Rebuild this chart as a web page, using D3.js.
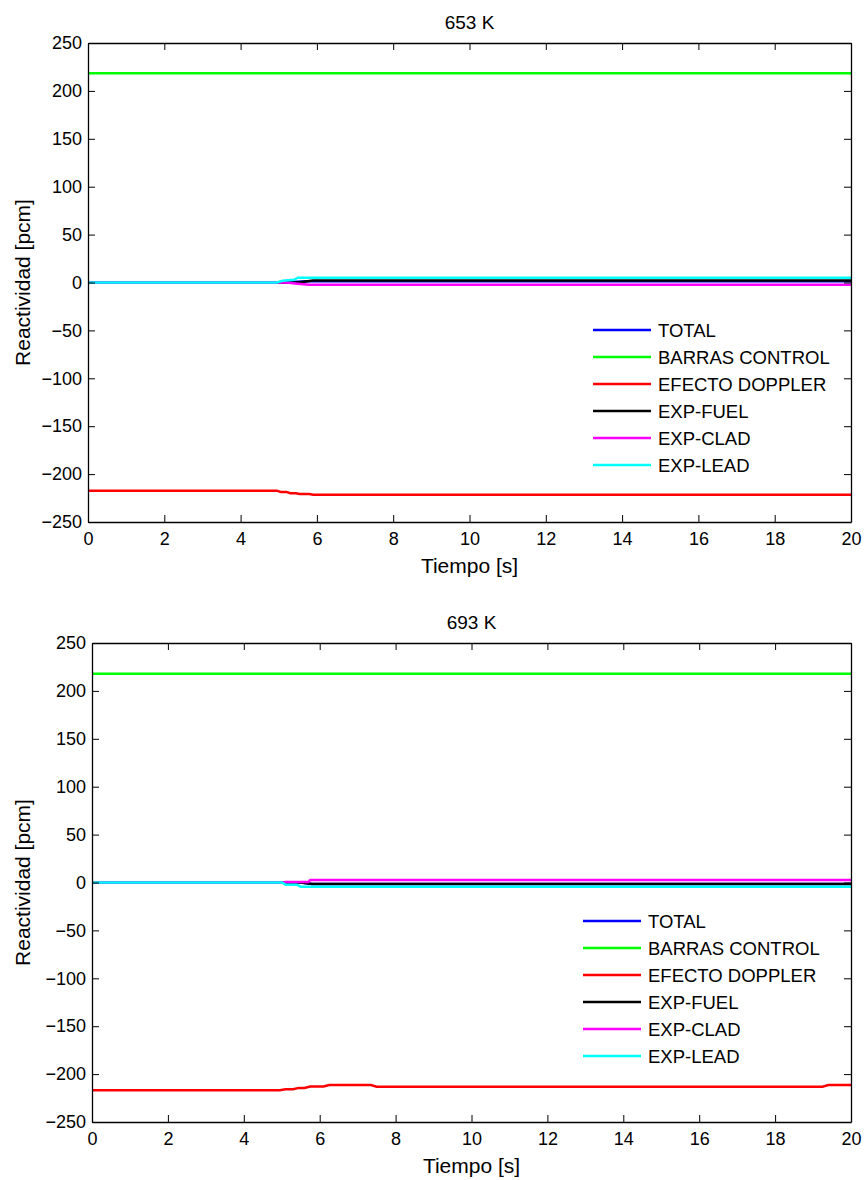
<!DOCTYPE html>
<html>
<head>
<meta charset="utf-8">
<script src="https://cdn.jsdelivr.net/npm/d3@7"></script>
<style>
  body { margin: 0; background: #fff; }
  svg { display: block; font-family: "Liberation Sans", Arial, sans-serif; }
</style>
</head>
<body>
<svg id="chart" width="865" height="1180"></svg>
<script>
// ---- Data ----
const seriesNames = ["TOTAL", "BARRAS CONTROL", "EFECTO DOPPLER", "EXP-FUEL", "EXP-CLAD", "EXP-LEAD"];
const seriesColors = ["#0000ff", "#00ff00", "#ff0000", "#000000", "#ff00ff", "#00ffff"];
const xTicks = [0, 2, 4, 6, 8, 10, 12, 14, 16, 18, 20];
const yTicks = [250, 200, 150, 100, 50, 0, -50, -100, -150, -200, -250];

// 653 K
const t653_total   = [0, 5.0, 5.8, 20];
const v653_total   = [0, 0, 1.2, 1.2];
const t653_barras  = [0, 20];
const v653_barras  = [218.5, 218.5];
const t653_doppler = [0, 4.95, 5.05, 5.2, 5.3, 5.45, 5.55, 5.8, 5.9, 20];
const v653_doppler = [-217.3, -217.3, -218.6, -218.6, -219.9, -219.9, -220.8, -220.8, -221.6, -221.6];
const t653_fuel    = [0, 5.5, 5.9, 20];
const v653_fuel    = [0, 0, 2.0, 2.0];
const t653_clad    = [0, 5.2, 5.5, 5.8, 20];
const v653_clad    = [0, 0, -1.2, -2.4, -2.4];
const t653_lead    = [0, 4.95, 5.1, 5.4, 5.5, 20];
const v653_lead    = [0, 0, 1.8, 2.8, 5.0, 5.0];

// 693 K
const t693_total   = [0, 5.5, 5.8, 20];
const v693_total   = [0, 0, -1.6, -1.6];
const t693_barras  = [0, 20];
const v693_barras  = [218.0, 218.0];
const t693_doppler = [0, 4.95, 5.1, 5.3, 5.45, 5.6, 5.75, 6.1, 6.25, 7.35, 7.5, 19.25, 19.4, 20];
const v693_doppler = [-216.8, -216.8, -215.8, -215.8, -214.4, -214.4, -213.0, -213.0, -211.5, -211.5, -213.2, -213.2, -211.5, -211.5];
const t693_fuel    = [0, 5.5, 5.8, 20];
const v693_fuel    = [0, 0, -1.6, -1.6];
const t693_clad    = [0, 5.05, 5.1, 5.7, 5.75, 20];
const v693_clad    = [0, 0, 0.5, 0.5, 2.6, 2.6];
const t693_lead    = [0, 5.0, 5.1, 5.4, 5.5, 20];
const v693_lead    = [0, 0, -2.3, -2.3, -4.4, -4.4];

const charts = [
  {
    title: "653 K",
    box: { left: 88, right: 851, top: 43, bottom: 522 },
    legend: { x: 593, y: 330 },
    times: [t653_total, t653_barras, t653_doppler, t653_fuel, t653_clad, t653_lead],
    values: [v653_total, v653_barras, v653_doppler, v653_fuel, v653_clad, v653_lead]
  },
  {
    title: "693 K",
    box: { left: 92, right: 851, top: 643, bottom: 1122 },
    legend: { x: 583, y: 921 },
    times: [t693_total, t693_barras, t693_doppler, t693_fuel, t693_clad, t693_lead],
    values: [v693_total, v693_barras, v693_doppler, v693_fuel, v693_clad, v693_lead]
  }
];

const svg = d3.select("#chart");

charts.forEach(c => {
  const b = c.box;
  const x = d3.scaleLinear().domain([0, 20]).range([b.left, b.right]);
  const y = d3.scaleLinear().domain([-250, 250]).range([b.bottom, b.top]);
  const g = svg.append("g");

  // series lines
  const line = d3.line().x(d => x(d[0])).y(d => y(d[1]));
  c.times.forEach((ts, i) => {
    const pts = ts.map((t, k) => [t, c.values[i][k]]);
    g.append("path")
      .datum(pts)
      .attr("d", line)
      .attr("fill", "none")
      .attr("stroke", seriesColors[i])
      .attr("stroke-width", 2.5);
  });

  // axes
  const tickStyle = sel => {
    sel.selectAll(".tick line").attr("stroke", "#000");
    sel.select(".domain").attr("stroke", "#000").attr("stroke-width", 1.3);
    sel.selectAll(".tick text").attr("fill", "#000").attr("font-size", 18)
      .attr("font-family", "'Liberation Sans', Arial, sans-serif");
  };
  g.append("g").attr("transform", `translate(0,${b.bottom})`)
    .call(d3.axisBottom(x).tickValues(xTicks).tickFormat(d3.format("d")).tickSize(-7).tickSizeOuter(0).tickPadding(10))
    .call(tickStyle);
  g.append("g").attr("transform", `translate(0,${b.top})`)
    .call(d3.axisTop(x).tickValues(xTicks).tickFormat("").tickSize(-7).tickSizeOuter(0))
    .call(tickStyle);
  g.append("g").attr("transform", `translate(${b.left},0)`)
    .call(d3.axisLeft(y).tickValues(yTicks).tickFormat(d3.format("d")).tickSize(-7).tickSizeOuter(0).tickPadding(6))
    .call(tickStyle);
  g.append("g").attr("transform", `translate(${b.right},0)`)
    .call(d3.axisRight(y).tickValues(yTicks).tickFormat("").tickSize(-7).tickSizeOuter(0))
    .call(tickStyle);
  g.selectAll(".domain").attr("fill", "none");

  // title & labels
  g.append("text")
    .attr("x", (b.left + b.right) / 2).attr("y", b.top - 14)
    .attr("text-anchor", "middle").attr("font-size", 19).text(c.title);
  g.append("text")
    .attr("x", (b.left + b.right) / 2).attr("y", b.bottom + 51)
    .attr("text-anchor", "middle").attr("font-size", 21).text("Tiempo [s]");
  g.append("text")
    .attr("transform", `translate(30,${(b.top + b.bottom) / 2}) rotate(-90)`)
    .attr("text-anchor", "middle").attr("font-size", 21).text("Reactividad [pcm]");

  // legend
  const lg = g.append("g");
  seriesNames.forEach((name, i) => {
    const yy = c.legend.y + i * 27;
    lg.append("line")
      .attr("x1", c.legend.x).attr("x2", c.legend.x + 58)
      .attr("y1", yy).attr("y2", yy)
      .attr("stroke", seriesColors[i]).attr("stroke-width", 2.5);
    lg.append("text")
      .attr("x", c.legend.x + 65).attr("y", yy + 6.5)
      .attr("font-size", 18.5).text(name);
  });
});
</script>
</body>
</html>
